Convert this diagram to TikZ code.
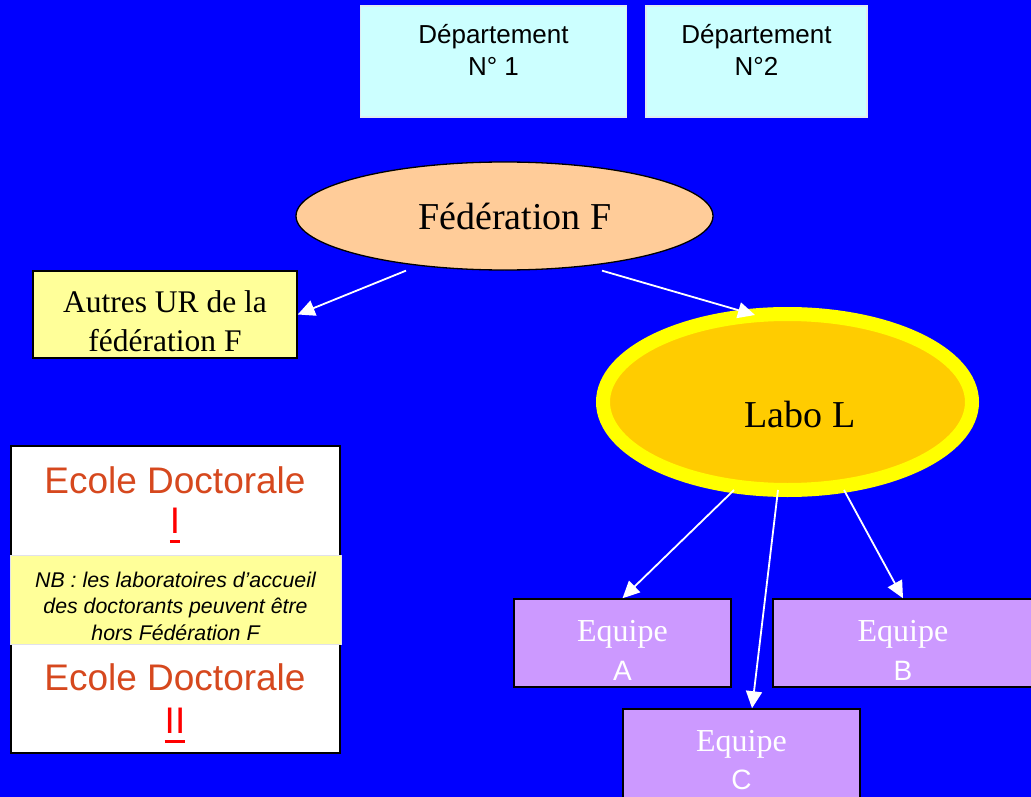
\documentclass[tikz,border=0pt]{standalone}
\usepackage{fontspec}
\setmainfont{Liberation Serif}
\newfontfamily\arialf{Liberation Sans}
\usetikzlibrary{arrows.meta,shapes.geometric}
\definecolor{bgblue}{RGB}{0,0,255}
\definecolor{deptfill}{RGB}{204,255,255}
\definecolor{deptedge}{RGB}{225,235,240}
\definecolor{fedfill}{RGB}{255,204,153}
\definecolor{urfill}{RGB}{255,255,153}
\definecolor{labofill}{RGB}{255,204,0}
\definecolor{laboedge}{RGB}{255,255,0}
\definecolor{eqfill}{RGB}{204,153,255}
\definecolor{edtext}{RGB}{214,72,30}
\definecolor{nbedge}{RGB}{225,225,235}
\newcommand\redul[1]{\setbox0=\hbox{#1}\rlap{\rule[-9.5pt]{\wd0}{2.5pt}}\box0}
\begin{document}
\begin{tikzpicture}[x=1pt,y=-1pt,
  deptbox/.style={rectangle, draw=deptedge, line width=1.5pt, fill=deptfill, inner sep=0pt},
  blackbox/.style={rectangle, draw=black, line width=1.5pt, inner sep=0pt},
  txt/.style={inner sep=0pt, anchor=base, align=center},
  arr/.style={draw=white, line width=1.8pt, -{Triangle[length=17pt,width=16pt]}}]
\clip (0,0) rectangle (1031,797);
\fill[bgblue] (0,0) rectangle (1031,797);
% departments
\node[deptbox, minimum width=266pt, minimum height=111pt] (d1) at (493.5,61.5) {};
\node[txt, font=\arialf\fontsize{26}{32}\selectfont] (d1t) at (493.5,76) {Département\\N° 1};
\node[deptbox, minimum width=221pt, minimum height=111pt] (d2) at (756.5,61.5) {};
\node[txt, font=\arialf\fontsize{26}{32}\selectfont] (d2t) at (756.5,76) {Département\\N°2};
% federation
\node[ellipse, draw=black, line width=1.3pt, fill=fedfill, minimum width=417pt, minimum height=108pt, inner sep=0pt] (fed) at (504.5,216) {};
\node[txt, font=\fontsize{38}{46}\selectfont] (fedt) at (515,229) {Fédération F};
% autres UR
\node[blackbox, fill=urfill, minimum width=264pt, minimum height=87pt] (aur) at (165,314.5) {};
\node[txt, font=\fontsize{31.5}{39}\selectfont] (aurt) at (165,351) {Autres UR de la\\fédération F};
% labo
\node[ellipse, draw=laboedge, line width=14pt, fill=labofill, minimum width=369pt, minimum height=176pt, inner sep=0pt, outer sep=0pt] (labo) at (787.5,402) {};
\node[txt, font=\fontsize{38}{46}\selectfont] (labot) at (800,427) {Labo L};
% equipes
\node[blackbox, fill=eqfill, minimum width=217pt, minimum height=88pt] (eqA) at (622.5,643) {};
\node[txt, text=white, font=\fontsize{32}{39}\selectfont] (eqAt) at (622.5,680) {Equipe\\{\arialf\fontsize{28}{39}\selectfont A}};
\node[blackbox, fill=eqfill, minimum width=260pt, minimum height=88pt] (eqB) at (903,643) {};
\node[txt, text=white, font=\fontsize{32}{39}\selectfont] (eqBt) at (903,680) {Equipe\\{\arialf\fontsize{28}{39}\selectfont B}};
\node[blackbox, fill=eqfill, minimum width=237pt, minimum height=92pt] (eqC) at (741.5,755) {};
\node[txt, text=white, font=\fontsize{32}{38}\selectfont] (eqCt) at (741.5,789) {Equipe\\{\arialf\fontsize{28}{38}\selectfont C}};
% ecole doctorale
\node[rectangle, draw=black, line width=2pt, fill=white, minimum width=329pt, minimum height=307pt, inner sep=0pt] (ed) at (175.5,599.5) {};
\node[rectangle, draw=nbedge, line width=1pt, fill=urfill, minimum width=331pt, minimum height=89pt, inner sep=0pt] (nb) at (175.5,599.5) {};
\node[txt, font=\arialf\fontsize{37}{40}\selectfont] (ed1) at (175,533) {\textcolor{edtext}{Ecole Doctorale}\\\textcolor{red}{\redul{I}}};
\node[txt, font=\arialf\fontsize{37}{43}\selectfont] (ed2) at (175,733) {\textcolor{edtext}{Ecole Doctorale}\\\textcolor{red}{\redul{II}}};
\node[txt, font=\arialf\itshape\fontsize{21.3}{26.5}\selectfont] (nbt) at (175.5,640) {NB : les laboratoires d’accueil\\des doctorants peuvent être\\hors Fédération F};
% arrows
\draw[arr] ([xshift=-98.5pt]fed.south) -- (aur.east);
\draw[arr] ([xshift=97.5pt]fed.south) -- ([xshift=-32.5pt,yshift=-1pt]labo.north);
\draw[arr] ([xshift=-53.5pt]labo.south) -- (eqA.north);
\draw[arr] ([xshift=-9.5pt]labo.south) -- ([xshift=10.5pt]eqC.north);
\draw[arr] ([xshift=56.5pt]labo.south) -- (eqB.north);
\end{tikzpicture}
\end{document}
